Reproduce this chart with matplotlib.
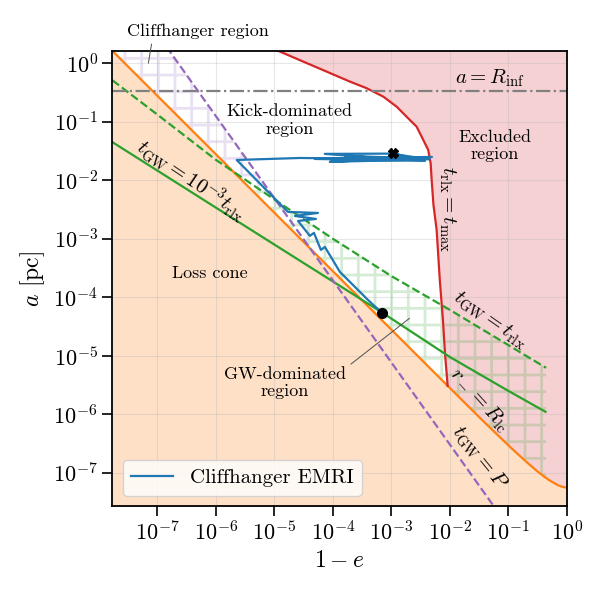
import numpy as np
import matplotlib
matplotlib.use("Agg")
import matplotlib.pyplot as plt

plt.rcParams['font.family'] = 'serif'
plt.rcParams['font.serif'] = ['cmr10']
plt.rcParams['mathtext.fontset'] = 'cm'
plt.rcParams['axes.formatter.use_mathtext'] = True
plt.rcParams['hatch.linewidth'] = 2.0

# axis limits
x_lim = [1.72e-8, 1.0]
y_lim = [2.7e-8, 1.62]

# loss cone boundary (orange)
orange_x = [1.72e-8, 1e-7, 1e-6, 1e-5, 1e-4, 1e-3, 1e-2, 3e-2, 5e-2, 0.1, 0.15, 0.2, 0.3, 0.4, 0.5, 0.7, 0.85, 1.0]
orange_y = [1.62, 0.279, 0.0279, 2.79e-3, 2.79e-4, 2.79e-5, 2.8e-6, 9.4e-7, 5.71e-7, 2.93e-7, 2.01e-7, 1.55e-7,
            1.09e-7, 8.7e-8, 7.43e-8, 6.12e-8, 5.70e-8, 5.57e-8]

# t_rlx = t_max (red)
red_x = [7e-6, 1.25e-5, 1.96e-4, 3.78e-4, 7.26e-4, 1.23e-3, 2.07e-3, 2.70e-3, 3.29e-3, 4.26e-3, 4.69e-3,
         4.88e-3, 5.24e-3, 5.94e-3, 6.72e-3, 7.6e-3, 8.23e-3, 9.16e-3]
red_y = [2.0, 1.58, 0.485, 0.374, 0.269, 0.181, 0.107, 0.0824, 0.0556, 0.033, 0.0195,
         0.0101, 3.78e-3, 1.41e-3, 1.97e-4, 4.09e-5, 1.12e-5, 3.05e-6]

# t_GW = t_rlx (green dashed)
gd_x = [1.72e-8, 1e-7, 1e-6, 1e-5, 1e-4, 1e-3, 1e-2, 0.44]
gd_y = [0.51, 0.133, 0.0224, 4.7e-3, 1.0e-3, 2.3e-4, 6.07e-5, 6.2e-6]

# r_- = R_lc (green solid)
gs_x = [1.72e-8, 1e-6, 1e-4, 6.9e-4, 1e-2, 0.1, 0.43]
gs_y = [0.0447, 3.41e-3, 1.86e-4, 5.5e-5, 9.5e-6, 2.5e-6, 1.1e-6]

# t_GW = P (purple dashed)
pd_x = [1.72e-8, 1.0]
pd_y = [37.7, 4.7e-10]

R_inf = 0.33

# hatched regions
cliff_x = [1.72e-8, 2.7e-8, 1.07e-5, 2.0e-6, 1.72e-8]
cliff_y = [20, 20, 4.5e-3, 1.4e-2, 1.62]

gwreg_x = [2.0e-6, 1e-5, 1e-4, 1e-3, 1e-2, 0.44, 0.44, 0.4, 0.3, 0.2, 0.1, 3e-2, 1e-2, 1e-3, 1e-4, 1e-5, 2.0e-6]
gwreg_y = [1.4e-2, 4.7e-3, 1.0e-3, 2.3e-4, 6.07e-5, 6.2e-6, 8.1e-8, 8.7e-8, 1.09e-7, 1.55e-7, 2.93e-7, 9.4e-7,
           2.8e-6, 2.79e-5, 2.79e-4, 2.79e-3, 1.4e-2]

# cliffhanger EMRI trajectory
traj_x = [1.05e-3, 2.07e-3, 1.61e-4, 3.75e-3, 4.94e-5, 4.93e-3, 8.9e-5, 1.70e-3, 7.3e-5, 9.5e-4, 4.5e-3,
          2.74e-5, 2.28e-6, 1.71e-5, 5.57e-5, 2.25e-5, 5.15e-5, 2.54e-5, 4.06e-5, 4.76e-5, 6.25e-5, 7.32e-5,
          1.32e-4, 3.98e-4, 6.9e-4]
traj_y = [0.0296, 0.0240, 0.0260, 0.0214, 0.0231, 0.0250, 0.0206, 0.0222, 0.0282, 0.0285, 0.0228,
          0.0240, 0.0222, 2.87e-3, 2.76e-3, 2.45e-3, 2.18e-3, 2.01e-3, 1.12e-3, 1.26e-3, 6.44e-4, 7.24e-4,
          2.71e-4, 9.0e-5, 5.4e-5]

fig = plt.figure(figsize=(5.97, 5.99), dpi=100)
ax = fig.add_axes([0.1884, 0.1553, 0.7613, 0.7596])
ax.set_xscale('log')
ax.set_yscale('log')

# excluded region
ax.fill(red_x + [9.16e-3, 10, 10], red_y + [1e-9, 1e-9, 2.0], color='#f6d1d3', lw=0, zorder=0.5)
# loss cone
ax.fill_between(orange_x, orange_y, 1e-10, color='#fee0c7', lw=0, zorder=0.6)
# hatches
ax.fill(cliff_x, cliff_y, facecolor='none', edgecolor=(0.58, 0.40, 0.74, 0.2), hatch='+', lw=0, zorder=0.8)
ax.fill(gwreg_x, gwreg_y, facecolor='none', edgecolor=(0.17, 0.63, 0.17, 0.2), hatch='+', lw=0, zorder=0.8)

ax.plot(orange_x, orange_y, color='C1', lw=1.6)
ax.plot(red_x, red_y, color='C3', lw=1.6)
ax.plot(gd_x, gd_y, color='C2', ls='--', lw=1.6)
ax.plot(gs_x, gs_y, color='C2', lw=1.6)
ax.plot(pd_x, pd_y, color='C4', ls='--', lw=1.6)
ax.axhline(R_inf, color='grey', ls='-.', lw=1.6)

ax.plot(traj_x, traj_y, color='C0', lw=1.6, label='Cliffhanger EMRI')
ax.plot(traj_x[0], traj_y[0], 'kX', ms=7)
ax.plot(traj_x[-1], traj_y[-1], 'ko', ms=7)

ax.text(0.0482, 0.561, r'$a = R_{\rm inf}$', fontsize=15, ha='center', va='center')
ax.text(1.85e-5, 0.107, 'Kick-dominated\nregion', fontsize=13, ha='center', va='center')
ax.text(0.0589, 0.0386, 'Excluded\nregion', fontsize=13, ha='center', va='center')
ax.text(7.94e-7, 2.6e-4, 'Loss cone', fontsize=13, ha='center', va='center')
ax.text(3.92e-7, 0.0101, r'$t_{\rm GW} = 10^{-3} t_{\rm rlx}$', fontsize=15, ha='center', va='center',
        rotation=-34)
ax.text(8.9e-3, 3.23e-3, r'$t_{\rm rlx} = t_{\rm max}$', fontsize=15, ha='center', va='center', rotation=-90)
ax.text(0.0483, 4.09e-5, r'$t_{\rm GW} = t_{\rm rlx}$', fontsize=15, ha='center', va='center', rotation=-35)
ax.text(0.0313, 1.75e-6, r'$r_- = R_{\rm lc}$', fontsize=15, ha='center', va='center', rotation=-48)
ax.text(0.0325, 1.79e-7, r'$t_{\rm GW} = P$', fontsize=15, ha='center', va='center', rotation=-51)

ax.annotate('Cliffhanger region', xy=(6.93e-8, 0.9), xytext=(4.95e-7, 3.57), fontsize=13, ha='center',
            va='center', annotation_clip=False,
            arrowprops=dict(arrowstyle='-', color='0.3', lw=0.7, relpos=(0.18, 0.0)))
ax.annotate('GW-dominated\nregion', xy=(2.22e-3, 4.66e-5), xytext=(1.52e-5, 3.43e-6), fontsize=13,
            ha='center', va='center',
            arrowprops=dict(arrowstyle='-', color='0.3', lw=0.7, relpos=(1.0, 0.95)))

ax.set_xlim(x_lim)
ax.set_ylim(y_lim)
ax.set_xticks([1e-7, 1e-6, 1e-5, 1e-4, 1e-3, 1e-2, 1e-1, 1e0])
ax.set_yticks([1e-7, 1e-6, 1e-5, 1e-4, 1e-3, 1e-2, 1e-1, 1e0])
ax.minorticks_off()
ax.tick_params(labelsize=16, length=7, width=1.2)
for s in ax.spines.values():
    s.set_linewidth(1.3)
ax.grid(True, alpha=0.3, lw=0.8)

ax.set_xlabel(r'$1-e$', fontsize=17)
ax.set_ylabel(r'$a$ [pc]', fontsize=17)
ax.legend(loc='lower left', fontsize=15)

fig.savefig('out.png', dpi=100)
